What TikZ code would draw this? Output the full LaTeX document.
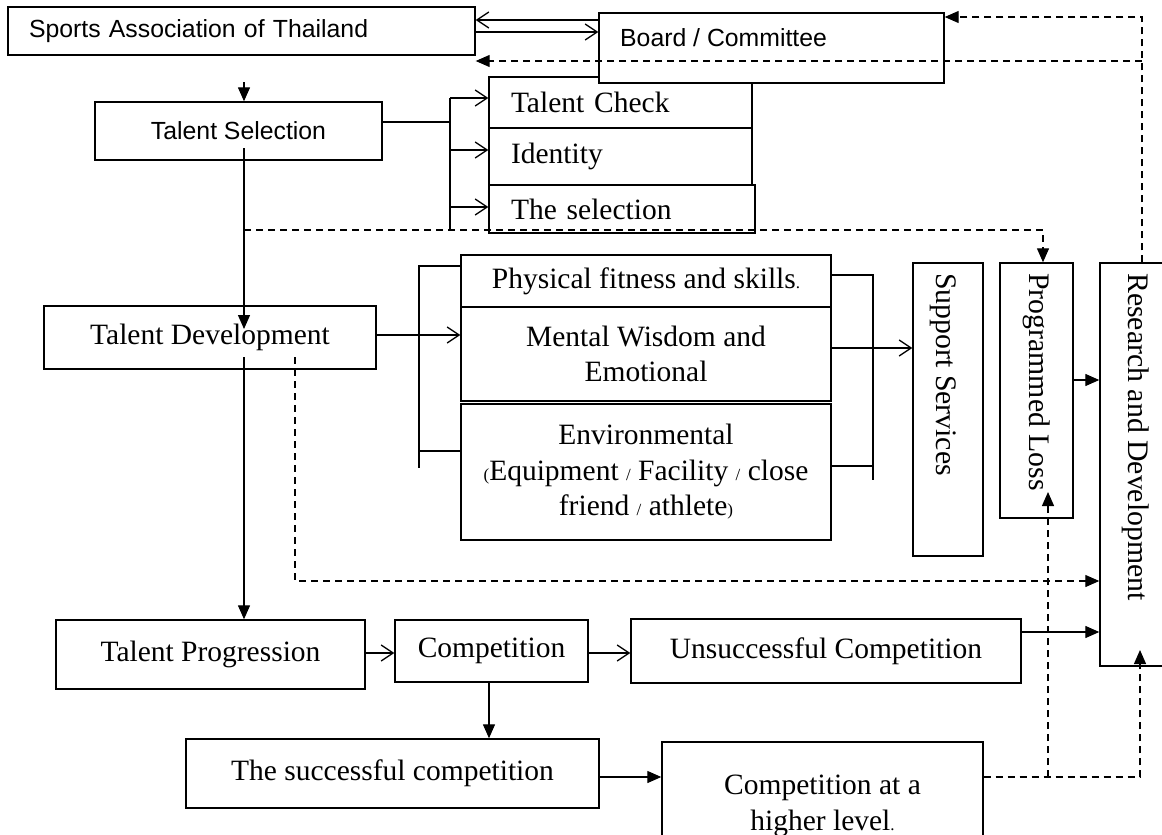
\documentclass[tikz,border=0pt]{standalone}
\usepackage{fontspec}
\setmainfont{Liberation Serif}
\newfontfamily\arialfont{Liberation Sans}
\usetikzlibrary{arrows.meta}
\newcommand{\smch}[1]{{\fontsize{17}{20}\selectfont #1}}

\begin{document}
\begin{tikzpicture}[x=1pt, y=-1pt,
    box/.style={draw, line width=1.4pt, fill=white, inner sep=0pt, align=center,
      font=\fontsize{29.5}{35.5}\selectfont},
    sansbox/.style={box, font=\arialfont\fontsize{24.8}{29}\selectfont},
    vtext/.style={rotate=-90, anchor=west, inner sep=0pt, font=\fontsize{29.8}{35.5}\selectfont},
    link/.style={line width=1.3pt},
    openarr/.style={link, -{Straight Barb[length=12pt, width=16pt, line width=1.3pt]}},
    fillarr/.style={link, -{Triangle[length=14pt, width=12pt]}},
    dashline/.style={line width=1.2pt, dash pattern=on 7pt off 5pt},
    dasharr/.style={dashline, -{Triangle[length=14pt, width=12pt]}}]
  \useasboundingbox (0,0) rectangle (1162,835);

  % Top row
  \node[sansbox, minimum width=467pt, minimum height=48pt, text width=425pt, align=left] (sa) at (241.5,31) {Sports Association of Thailand};

  % Selection boxes
  \node[box, minimum width=263pt, minimum height=51pt, text width=219pt, align=left] (tc) at (620.5,102.5) {Talent Check};
  \node[box, minimum width=263pt, minimum height=57pt, text width=219pt, align=left] (ident) at (620.5,156.5) {Identity};
  \node[box, minimum width=266pt, minimum height=48pt, text width=222pt, align=left] (sel) at (622,209) {The selection};

  \node[sansbox, minimum width=345pt, minimum height=70pt] (board) at (771.5,48) {};
  \node[anchor=west, inner sep=0pt, font=\arialfont\fontsize{24.8}{29}\selectfont] (boardtext) at (620,38) {Board / Committee};

  \node[sansbox, minimum width=287pt, minimum height=58pt] (ts) at (238.5,131) {Talent Selection};

  % Development boxes
  \node[box, minimum width=332pt, minimum height=63pt] (td) at (210,337.5) {Talent Development};
  \node[box, minimum width=370pt, minimum height=52pt] (phys) at (646,281) {Physical fitness and skills\smch{.}};
  \node[box, minimum width=370pt, minimum height=94pt] (mental) at (646,354) {Mental Wisdom and\\Emotional};
  \node[box, minimum width=370pt, minimum height=136pt] (env) at (646,472) {Environmental\\\smch{(}Equipment \smch{/} Facility \smch{/} close\\friend \smch{/} athlete\smch{)}};

  % Vertical boxes
  \node[box, minimum width=70pt, minimum height=293pt] (ss) at (948,409.5) {};
  \node[vtext] (sstext) at (943,273) {Support Services};
  \node[box, minimum width=73pt, minimum height=255pt] (pl) at (1036.5,390.5) {};
  \node[vtext] (pltext) at (1037,273) {Programmed Loss};
  \node[box, minimum width=75pt, minimum height=403pt] (rd) at (1137.5,464.5) {};
  \node[vtext] (rdtext) at (1136,273) {Research and Development};

  % Progression boxes
  \node[box, minimum width=309pt, minimum height=69pt] (tp) at (210.5,654.5) {Talent Progression};
  \node[box, minimum width=193pt, minimum height=62pt] (comp) at (491.5,651) {Competition};
  \node[box, minimum width=390pt, minimum height=64pt] (unsucc) at (826,651) {Unsuccessful Competition};
  \node[box, minimum width=413pt, minimum height=69pt] (succ) at (392.5,773.5) {The successful competition};
  \node[box, minimum width=321pt, minimum height=128pt] (higher) at (822.5,806) {Competition at a\\higher level\smch{.}};

  % Association and board
  \draw[openarr] (board.west |- 0,20) -- (sa.east |- 0,20);
  \draw[openarr] (sa.east |- 0,32) -- (board.west |- 0,32);
  \draw[dasharr] (rd.north -| 1142,0) -- (1142,17) -- (board.east |- 0,17);
  \draw[dasharr] (1142,61) -- (sa.east |- 0,61);

  % Main line
  \draw[fillarr] (244,82) -- (ts.north -| 244,0);
  \draw[fillarr] (244,148) -- (244,329);
  \draw[fillarr] (244,357) -- (tp.north -| 244,0);

  % Selection bracket
  \draw[link] (ts.east |- 0,122) -- (450,122);
  \draw[link] (450,98) -- (450,230);
  \foreach \y/\n in {98/tc, 150/ident, 207/sel}
    \draw[openarr] (450,\y) -- (\n.west |- 0,\y);
  \draw[dasharr] (244,230) -- (1043,230) -- (pl.north -| 1043,0);

  % Development brackets
  \draw[link] (phys.west |- 0,266) -- (419,266) -- (419,468);
  \draw[link] (419,451) -- (env.west |- 0,451);
  \draw[openarr] (td.east |- 0,335) -- (mental.west |- 0,335);
  \draw[link] (phys.east |- 0,275) -- (873,275) -- (873,480);
  \draw[link] (env.east |- 0,466) -- (873,466);
  \draw[openarr] (mental.east |- 0,348) -- (ss.west |- 0,348);
  \draw[fillarr] (pl.east |- 0,380) -- (rd.west |- 0,380);
  \draw[dasharr] (295,357) -- (295,581) -- (rd.west |- 0,581);

  % Competition
  \draw[openarr] (tp.east |- 0,653) -- (comp.west |- 0,653);
  \draw[openarr] (comp.east |- 0,653) -- (unsucc.west |- 0,653);
  \draw[fillarr] (unsucc.east |- 0,632) -- (rd.west |- 0,632);
  \draw[fillarr] (comp.south -| 489,0) -- (succ.north -| 489,0);
  \draw[fillarr] (succ.east |- 0,777) -- (higher.west |- 0,777);
  \draw[dasharr] (higher.east |- 0,777) -- (1140,777) -- (1140,650);
  \draw[dasharr] (1048,777) -- (1048,492);
\end{tikzpicture}
\end{document}
